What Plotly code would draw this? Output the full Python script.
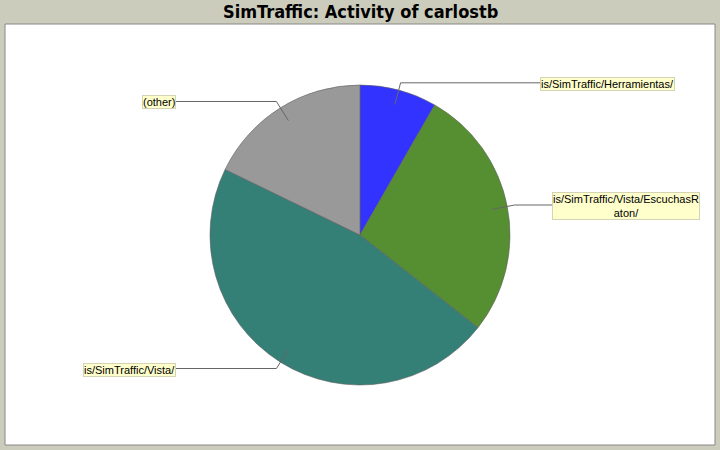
#!/usr/bin/env python3
"""Pie chart of the activity of one SimTraffic user, JFreeChart look"""
import math

import plotly.graph_objects as go

W, H = 720, 450

packages = [
    "is/SimTraffic/Herramientas/",
    "is/SimTraffic/Vista/EscuchasRaton/",
    "is/SimTraffic/Vista/",
    "(other)",
]
label_texts = [
    "is/SimTraffic/Herramientas/",
    "is/SimTraffic/Vista/EscuchasR<br>aton/",
    "is/SimTraffic/Vista/",
    "(other)",
]
activity = [8.3, 27.3, 46.6, 17.8]
colors = ["#3333FF", "#568F32", "#347F76", "#999999"]

# pie geometry in pixels
CX, CY, R = 360, 235, 150


def px(x):
    return x / W


def py(y):
    return 1 - y / H


def label_parts(values):
    """Leader lines and label annotations, placed from the slice angles"""
    shapes, annotations = [], []
    total = sum(values)
    start = 0.0
    for text, val in zip(label_texts, values):
        mid = math.radians((start + val / 2) / total * 360)
        start += val
        sx, sy = math.sin(mid), -math.cos(mid)
        x0, y0 = CX + 0.9 * R * sx, CY + 0.9 * R * sy
        x1, y1 = CX + 1.05 * R * sx, CY + 1.05 * R * sy
        right = sx >= 0
        wrapped = "<br>" in text
        x2 = (552 if wrapped else 540) if right else 176
        line = dict(color="#666666", width=1)
        shapes.append(dict(type="line", xref="paper", yref="paper",
                           x0=px(x0), y0=py(y0), x1=px(x1), y1=py(y1), line=line))
        shapes.append(dict(type="line", xref="paper", yref="paper",
                           x0=px(x1), y0=py(y1), x1=px(x2), y1=py(y1), line=line))
        annotations.append(dict(
            x=px(x2), y=py(y1 + 1), xref="paper", yref="paper",
            xanchor="left" if right else "right", yanchor="middle",
            text=text, showarrow=False, align="center",
            font=dict(family="Liberation Sans, Arial", size=11, color="#000000"),
            bgcolor="#FFFFCC", bordercolor="#D4D4B4", borderwidth=1, borderpad=0,
        ))
    return shapes, annotations


def main():
    fig = go.Figure(go.Pie(
        labels=packages,
        values=activity,
        sort=False,
        direction="clockwise",
        rotation=0,
        marker=dict(colors=colors, line=dict(color="#606060", width=0.6)),
        textinfo="none",
        hoverinfo="label+percent",
        domain=dict(x=[px(CX - R), px(CX + R)], y=[py(CY + R), py(CY - R)]),
        showlegend=False,
    ))

    shapes, annotations = label_parts(activity)
    # white plot area with grey border
    shapes.insert(0, dict(type="rect", xref="paper", yref="paper", layer="below",
                          x0=px(5), y0=py(445), x1=px(715), y1=py(24),
                          fillcolor="#FFFFFF", line=dict(color="#888888", width=1)))
    annotations.append(dict(
        x=0.5, y=py(12), xref="paper", yref="paper", xanchor="center", yanchor="middle",
        text="<b>SimTraffic: Activity of carlostb</b>", showarrow=False,
        font=dict(family="Liberation Sans Narrow, DejaVu Sans Condensed, Liberation Sans",
                  size=18, color="#000000"),
    ))

    fig.update_layout(
        width=W, height=H,
        margin=dict(l=0, r=0, t=0, b=0),
        paper_bgcolor="#CCCCBC",
        plot_bgcolor="#CCCCBC",
        shapes=shapes,
        annotations=annotations,
    )
    # drop the default page margin so the figure sits at the window corner
    fig.write_html("out.html", config={"displayModeBar": False},
                   post_script="document.body.style.margin='0';")


if __name__ == "__main__":
    main()
